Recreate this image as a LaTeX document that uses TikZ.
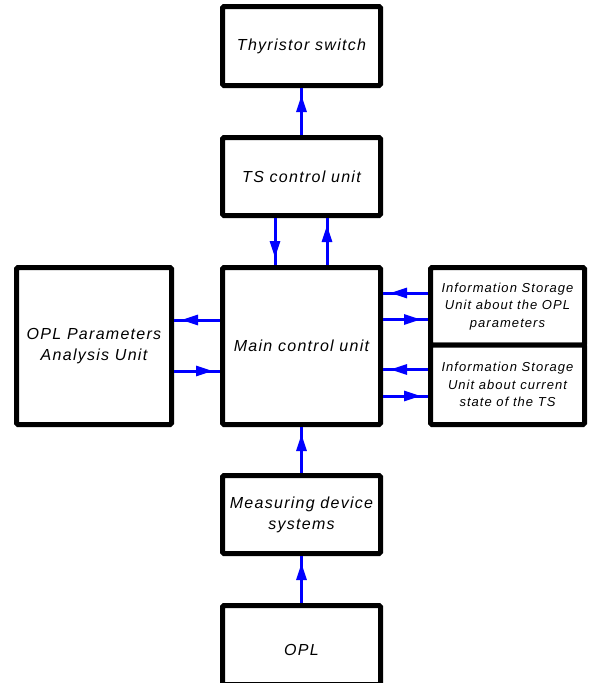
\documentclass[tikz,border=0pt]{standalone}
\usepackage{fontspec}
\newfontfamily\gostfont{Liberation Sans}[LetterSpace=8]
\usetikzlibrary{arrows.meta}
\begin{document}
\begin{tikzpicture}[x=1pt,y=-1pt,
  blk/.style={draw=black, line width=5pt, rounded corners=1.5pt, fill=white,
    align=center, inner sep=0pt, font=\gostfont\itshape\fontsize{16}{21}\selectfont},
  small/.style={font=\gostfont\itshape\fontsize{13}{17.5}\selectfont},
  arr/.style={draw=blue, line width=3pt,
    postaction={draw=blue, shorten >=7pt, -{Triangle[length=17pt,width=10pt]}}}]
\useasboundingbox (0,0) rectangle (589,683);
% boxes
\node[blk, minimum width=158pt, minimum height=79pt] (thy) at (301.5,46) {Thyristor switch};
\node[blk, minimum width=158pt, minimum height=78pt] (ts) at (301.5,176.5) {TS control unit};
\node[blk, minimum width=158pt, minimum height=157pt] (main) at (301.5,346) {Main control unit};
\node[blk, minimum width=155pt, minimum height=157pt] (opa) at (94,346) {OPL Parameters\\Analysis Unit};
\node[blk, small, minimum width=154pt, minimum height=77.5pt] (inf1) at (507.5,306.25) {Information Storage\\Unit about the OPL\\parameters};
\node[blk, small, minimum width=154pt, minimum height=79.5pt] (inf2) at (507.5,384.75) {Information Storage\\Unit about current\\state of the TS};
\node[blk, minimum width=158pt, minimum height=78pt] (meas) at (301.5,514.5) {Measuring device\\systems};
\node[blk, minimum width=158pt, minimum height=79pt, text height=21.5pt] (opl) at (301.5,645) {OPL};
% helper coordinates
\coordinate (xa) at (275,0);
\coordinate (xb) at (327,0);
\coordinate (y1) at (0,293);
\coordinate (y2) at (0,319.5);
\coordinate (y3) at (0,369.5);
\coordinate (y4) at (0,396);
\coordinate (y5) at (0,320);
\coordinate (y6) at (0,371);
% connectors
\draw[arr] (ts.north) -- (thy.south);
\draw[arr] (ts.south -| xa) -- (main.north -| xa);
\draw[arr] (main.north -| xb) -- (ts.south -| xb);
\draw[arr] (main.west |- y5) -- (opa.east |- y5);
\draw[arr] (opa.east |- y6) -- (main.west |- y6);
\draw[arr] (inf1.west |- y1) -- (main.east |- y1);
\draw[arr] (main.east |- y2) -- (inf1.west |- y2);
\draw[arr] (inf2.west |- y3) -- (main.east |- y3);
\draw[arr] (main.east |- y4) -- (inf2.west |- y4);
\draw[arr] (meas.north) -- (main.south);
\draw[arr] (opl.north) -- (meas.south);
\end{tikzpicture}
\end{document}
